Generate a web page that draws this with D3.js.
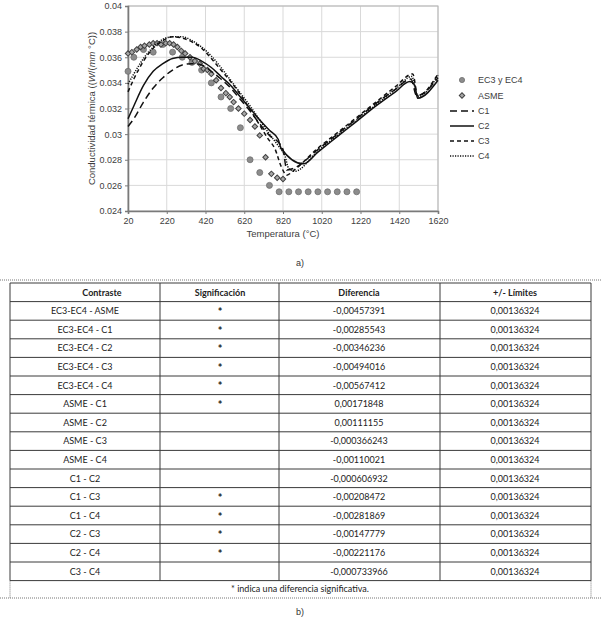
<!DOCTYPE html>
<html><head><meta charset="utf-8">
<script src="https://cdn.jsdelivr.net/npm/d3@7"></script>
<style>
html,body{margin:0;padding:0;background:#fff;}
svg{display:block;}
</style></head>
<body>
<svg id="c" width="601" height="628"></svg>
<script>
// ---- Chart data ----
const ecT = [20,50,100,150,200,250,300,350,400,450,500,550,600,650,700,750,800,850,900,950,1000,1050,1100,1150,1200];
const ecK = [0.0349,0.0360,0.0366,0.0364,0.0370,0.0364,0.0360,0.0356,0.0350,0.0340,0.0329,0.0320,0.0305,0.0280,0.0270,0.0260,0.0255,0.0255,0.0255,0.0255,0.0255,0.0255,0.0255,0.0255,0.0255];
const asmeT = [20,40,65,85,105,130,150,170,190,215,235,255,275,295,315,340,365,390,410,430,450,475,500,525,545,565,590,620,650,675,700,730,760,790,820];
const asmeK = [0.0363,0.0364,0.0366,0.0368,0.0369,0.0370,0.0371,0.0371,0.0370,0.0371,0.0371,0.0370,0.0368,0.0365,0.0363,0.0360,0.0357,0.0355,0.0351,0.0350,0.0347,0.0342,0.0336,0.0332,0.0329,0.0325,0.0320,0.0316,0.0311,0.0306,0.0299,0.0282,0.0269,0.0266,0.0265];
const c1T = [20,50,100,150,200,250,300,350,400,450,500,550,600,650,700,750,800,820,840,870,1000,1100,1200,1300,1400,1480,1510,1620];
const c1K = [0.0306,0.0312,0.0325,0.0336,0.0344,0.0350,0.0354,0.0355,0.0354,0.0349,0.0343,0.0336,0.0327,0.0318,0.0308,0.0299,0.0293,0.0288,0.0272,0.0273,0.0288,0.0300,0.0312,0.0324,0.0335,0.0343,0.0330,0.0344];
const c2T = [20,50,100,150,200,250,300,350,400,450,500,550,600,650,700,750,795,810,925,1000,1100,1200,1300,1400,1475,1500,1515,1620];
const c2K = [0.0312,0.0322,0.0338,0.0349,0.0355,0.0359,0.0360,0.0360,0.0357,0.0352,0.0345,0.0338,0.0329,0.0320,0.0311,0.0303,0.0296,0.0289,0.02768,0.0286,0.0298,0.0310,0.0322,0.0333,0.0341,0.0338,0.0328,0.0342];
const c3T = [20,50,100,150,200,250,300,350,400,450,500,550,600,650,700,740,780,810,840,870,1000,1100,1200,1300,1400,1490,1515,1620];
const c3K = [0.0333,0.0343,0.0357,0.0367,0.0373,0.0376,0.0375,0.0372,0.0367,0.0359,0.0350,0.0341,0.0331,0.0319,0.0307,0.0297,0.0288,0.0275,0.0268,0.0271,0.0289,0.0301,0.0313,0.0325,0.0337,0.0347,0.0330,0.0347];
const c4T = [20,50,100,150,200,250,300,350,400,450,500,550,600,650,700,750,800,830,850,880,1000,1100,1200,1300,1400,1485,1515,1620];
const c4K = [0.0339,0.0347,0.0359,0.0368,0.0374,0.0376,0.0376,0.0373,0.0368,0.0361,0.0352,0.0342,0.0332,0.0322,0.0311,0.0300,0.0290,0.0283,0.0273,0.0271,0.0287,0.0299,0.0311,0.0323,0.0335,0.0345,0.0329,0.0346];
const xTicks = [20,220,420,620,820,1020,1220,1420,1620];
const yTicks = [0.024,0.026,0.028,0.03,0.032,0.034,0.036,0.038,0.04];
const seriesNames = ["EC3 y EC4","ASME","C1","C2","C3","C4"];

// ---- Table data ----
const headers = ["Contraste","Significación","Diferencia","+/- Límites"];
const contrastes = ["EC3-EC4 - ASME","EC3-EC4 - C1","EC3-EC4 - C2","EC3-EC4 - C3","EC3-EC4 - C4","ASME - C1","ASME - C2","ASME - C3","ASME - C4","C1 - C2","C1 - C3","C1 - C4","C2 - C3","C2 - C4","C3 - C4"];
const significacion = ["*","*","*","*","*","*","","","","","*","*","*","*",""];
const diferencias = ["-0,00457391","-0,00285543","-0,00346236","-0,00494016","-0,00567412","0,00171848","0,00111155","-0,000366243","-0,00110021","-0,000606932","-0,00208472","-0,00281869","-0,00147779","-0,00221176","-0,000733966"];
const limites = ["0,00136324","0,00136324","0,00136324","0,00136324","0,00136324","0,00136324","0,00136324","0,00136324","0,00136324","0,00136324","0,00136324","0,00136324","0,00136324","0,00136324","0,00136324"];
const footnote = "* indica una diferencia significativa.";

const svg = d3.select("#c");
const F = "'Liberation Sans', Arial, sans-serif";
const TF = "Lato, 'Open Sans', sans-serif";

const x = d3.scaleLinear().domain([20,1620]).range([128,438]);
const y = d3.scaleLinear().domain([0.024,0.04]).range([211,6]);

// gridlines
const g = svg.append("g");
g.selectAll(".gx").data(xTicks).join("line")
  .attr("x1",d=>x(d)).attr("x2",d=>x(d)).attr("y1",y(0.024)).attr("y2",y(0.04))
  .attr("stroke","#d9d9d9").attr("stroke-width",1);
g.selectAll(".gy").data(yTicks).join("line")
  .attr("x1",x(20)).attr("x2",x(1620)).attr("y1",d=>y(d)).attr("y2",d=>y(d))
  .attr("stroke","#d9d9d9").attr("stroke-width",1);
g.append("rect").attr("x",x(20)).attr("y",y(0.04)).attr("width",x(1620)-x(20)).attr("height",y(0.024)-y(0.04))
  .attr("fill","none").attr("stroke","#b4b4b4").attr("stroke-width",1);

// axes
const xAxis = d3.axisBottom(x).tickValues(xTicks).tickSize(3).tickPadding(4).tickFormat(d3.format("d"));
const yAxis = d3.axisLeft(y).tickValues(yTicks).tickSize(3).tickPadding(3).tickFormat(d=>String(+d.toFixed(3)));
const gx = svg.append("g").attr("transform",`translate(0,${y(0.024)})`).call(xAxis);
const gy = svg.append("g").attr("transform",`translate(${x(20)},0)`).call(yAxis);
[gx,gy].forEach(a=>{
  a.select(".domain").attr("stroke","#7a7a7a").attr("stroke-width",1.6);
  a.selectAll(".tick line").attr("stroke","#7a7a7a");
  a.selectAll("text").attr("font-family",F).attr("font-size",9).attr("fill","#404040");
});

// axis titles
svg.append("text").attr("x",283).attr("y",237).attr("text-anchor","middle")
  .attr("font-family",F).attr("font-size",9.5).attr("fill","#404040").text("Temperatura (°C)");
const yt = svg.append("text").attr("transform",`translate(95,${(y(0.024)+y(0.04))/2}) rotate(-90)`)
  .attr("text-anchor","middle").attr("font-family",F).attr("font-size",9.5).attr("fill","#404040");
yt.append("tspan").text("Conductividad térmica ((");
yt.append("tspan").attr("font-style","italic").text("W");
yt.append("tspan").text("/(");
yt.append("tspan").attr("font-style","italic").text("mm");
yt.append("tspan").text(" °C))");

// scatter
const ec = ecT.map((t,i)=>[t,ecK[i]]);
const asme = asmeT.map((t,i)=>[t,asmeK[i]]);
svg.append("g").selectAll("circle").data(ec).join("circle")
  .attr("cx",d=>x(d[0])).attr("cy",d=>y(d[1])).attr("r",3)
  .attr("fill","#8c8c8c").attr("stroke","#6e6e6e").attr("stroke-width",0.8);
const diamond = d3.symbol().type(d3.symbolSquare).size(15);
svg.append("g").selectAll("path").data(asme).join("path")
  .attr("transform",d=>`translate(${x(d[0])},${y(d[1])}) rotate(45)`).attr("d",diamond)
  .attr("fill","#a6a6a6").attr("stroke","#404040").attr("stroke-width",1);

// lines
const lineGen = d3.line().x(d=>x(d[0])).y(d=>y(d[1])).curve(d3.curveMonotoneX);
const lines = [
  {t:c1T,k:c1K,dash:"7,4",w:1.5},
  {t:c2T,k:c2K,dash:null,w:1.5},
  {t:c3T,k:c3K,dash:"4,3",w:1.5},
  {t:c4T,k:c4K,dash:"1.2,1.3",w:1.5},
];
lines.forEach(L=>{
  const data = L.t.map((t,i)=>[t,L.k[i]]);
  svg.append("path").datum(data).attr("d",lineGen).attr("fill","none")
    .attr("stroke","#111").attr("stroke-width",L.w).attr("stroke-dasharray",L.dash);
});

// legend
const leg = svg.append("g");
const ly = [80,95.5,111,126,141,156];
seriesNames.forEach((n,i)=>{
  const yy = ly[i];
  if(i===0){
    leg.append("circle").attr("cx",462).attr("cy",yy).attr("r",2.6).attr("fill","#8c8c8c").attr("stroke","#6e6e6e").attr("stroke-width",0.8);
  } else if(i===1){
    leg.append("path").attr("transform",`translate(462,${yy}) rotate(45)`).attr("d",diamond).attr("fill","#a6a6a6").attr("stroke","#404040");
  } else {
    const L = lines[i-2];
    leg.append("line").attr("x1",450).attr("x2",474).attr("y1",yy).attr("y2",yy)
      .attr("stroke","#111").attr("stroke-width",1.5).attr("stroke-dasharray",L.dash);
  }
  leg.append("text").attr("x",478).attr("y",yy+3.2).attr("font-family",F).attr("font-size",9)
    .attr("fill","#404040").text(n);
});

svg.append("text").attr("x",300).attr("y",266).attr("text-anchor","middle")
  .attr("font-family",F).attr("font-size",9).attr("fill","#333").text("a)");

// ---- table ----
const colX = [10,160,279,440,591];
const tTop = 283, rowH = 18.6;
const nRows = contrastes.length + 1;
const tb = svg.append("g");
tb.append("line").attr("x1",0).attr("x2",601).attr("y1",280).attr("y2",280).attr("stroke","#777").attr("stroke-dasharray","1,1");
tb.append("line").attr("x1",0).attr("x2",601).attr("y1",598).attr("y2",598).attr("stroke","#777").attr("stroke-dasharray","1,1");
[colX[0],colX[4]].forEach(cx=>tb.append("line").attr("x1",cx).attr("x2",cx).attr("y1",tTop+nRows*rowH).attr("y2",598).attr("stroke","#777").attr("stroke-dasharray","1,1"));
d3.range(nRows+1).forEach(r=>{
  tb.append("line").attr("x1",colX[0]).attr("x2",colX[4]).attr("y1",tTop+r*rowH).attr("y2",tTop+r*rowH)
    .attr("stroke","#3a3a3a").attr("stroke-width",1);
});
colX.forEach(cx=>{
  tb.append("line").attr("x1",cx).attr("x2",cx).attr("y1",tTop).attr("y2",tTop+nRows*rowH)
    .attr("stroke","#3a3a3a").attr("stroke-width",1);
});
const centers = [85,220,359,515];
headers.forEach((h,j)=>{
  tb.append("text").attr("x",j===0?102:centers[j]).attr("y",tTop+rowH/2+3.2).attr("text-anchor","middle")
    .attr("font-family",TF).attr("font-size",9).attr("font-weight","bold").attr("fill","#222").text(h);
});
const cols = [contrastes,significacion,diferencias,limites];
contrastes.forEach((_,i)=>{
  cols.forEach((arr,j)=>{
    tb.append("text").attr("x",centers[j]).attr("y",tTop+(i+1)*rowH+rowH/2+(j===1?5:3.2)).attr("text-anchor","middle")
      .attr("font-family",TF).attr("font-size",j===1?11:9).attr("font-weight",j===1?"bold":"normal").attr("fill","#222").text(arr[i]);
  });
});
tb.append("text").attr("x",300).attr("y",592).attr("text-anchor","middle")
  .attr("font-family",TF).attr("font-size",9).attr("fill","#222").text(footnote);
svg.append("text").attr("x",300).attr("y",615).attr("text-anchor","middle")
  .attr("font-family",F).attr("font-size",9).attr("fill","#333").text("b)");
</script>
</body></html>
